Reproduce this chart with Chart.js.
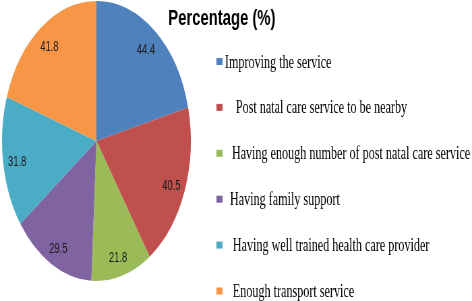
<!DOCTYPE html>
<html>
<head>
<meta charset="utf-8">
<script src="https://cdn.jsdelivr.net/npm/chart.js@4/dist/chart.umd.min.js"></script>
<style>
  html, body { margin: 0; padding: 0; background: #fff; overflow: hidden; }
  #wrap { width: 700px; height: 301px; transform: scaleX(0.6743); transform-origin: 0 0; }
</style>
</head>
<body>
<div id="wrap"><canvas id="c" width="700" height="301"></canvas></div>
<script>
const titleText = 'Percentage (%)';
const categories = [
  'Improving the service',
  'Post natal care service to be nearby',
  'Having enough number of post natal care service',
  'Having family support',
  'Having well trained health care provider',
  'Enough transport service'
];
const percentages = [44.4, 40.5, 21.8, 29.5, 31.8, 41.8];
const sliceColors = ['#4F81BD', '#C0504D', '#9BBB59', '#8064A2', '#4BACC6', '#F79646'];

const decor = {
  id: 'decor',
  afterDatasetsDraw(chart) {
    const ctx = chart.ctx;
    const meta = chart.getDatasetMeta(0);
    const ds = chart.data.datasets[0];
    ctx.save();
    ctx.fillStyle = '#1a1a1a';
    ctx.font = '14px "Liberation Sans", Arial, sans-serif';
    ctx.textAlign = 'center';
    ctx.textBaseline = 'middle';
    meta.data.forEach((arc, i) => {
      const p = arc.getProps(['x', 'y', 'startAngle', 'endAngle', 'outerRadius'], true);
      const mid = (p.startAngle + p.endAngle) / 2;
      const r = p.outerRadius * 0.85;
      ctx.fillText(String(ds.data[i]), p.x + Math.cos(mid) * r, p.y + Math.sin(mid) * r + 3);
    });
    ctx.restore();
  },
  afterDraw(chart) {
    const ctx = chart.ctx;
    ctx.save();
    // title
    ctx.fillStyle = '#000';
    ctx.font = 'bold 22px "Liberation Sans", Arial, sans-serif';
    ctx.textAlign = 'center';
    ctx.textBaseline = 'alphabetic';
    ctx.fillText(titleText, 329, 25);
    // legend
    const indents = [0, 11, 7, 5, 8, 8];
    const ds = chart.data.datasets[0];
    ctx.font = '18px "Liberation Serif", "Times New Roman", serif';
    ctx.textAlign = 'left';
    chart.data.labels.forEach((lab, i) => {
      const cy = 61.5 + i * 45.9;
      ctx.fillStyle = ds.backgroundColor[i];
      ctx.fillRect(321, cy - 3.5, 9, 7);
      ctx.fillStyle = '#000';
      ctx.fillText(lab, 333.5 + indents[i] / 0.6743, cy + 6);
    });
    ctx.restore();
  }
};

new Chart(document.getElementById('c'), {
  type: 'pie',
  data: {
    labels: categories,
    datasets: [{
      data: percentages,
      backgroundColor: sliceColors,
      borderWidth: 0,
      hoverOffset: 0,
      offset: 0
    }]
  },
  options: {
    responsive: false,
    animation: false,
    events: [],
    layout: { padding: { left: 3, right: 417, top: 1, bottom: 20 } },
    plugins: {
      legend: { display: false },
      title: { display: false },
      tooltip: { enabled: false }
    }
  },
  plugins: [decor]
});
</script>
</body>
</html>
